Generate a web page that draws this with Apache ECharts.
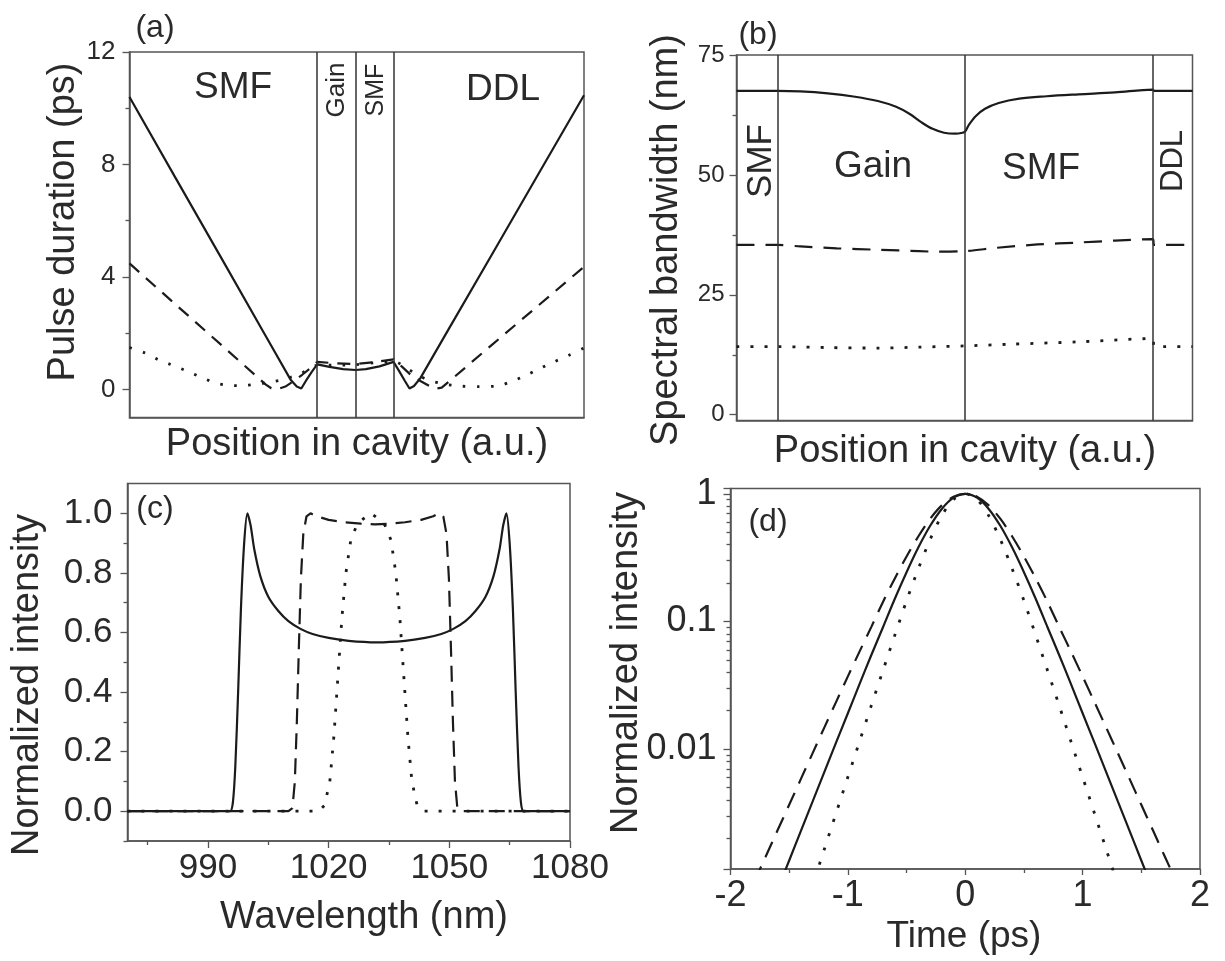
<!DOCTYPE html>
<html><head><meta charset="utf-8">
<script src="https://cdn.jsdelivr.net/npm/echarts@6/dist/echarts.min.js"></script>
<style>html,body{margin:0;padding:0;background:#fff}#chart{width:1225px;height:961px}</style>
</head><body><div id="chart"></div>
<script>
// ---------- DATA ----------
// (a) Pulse duration vs position in cavity (a.u. 0..100)
const aBoundaries = [41.3, 49.75, 58.1];
const aYTicks = [0, 4, 8, 12];
const aYMinor = [2, 6, 10];
const aSolid = [[0,10.4],[10,7.56],[20,4.73],[30,1.89],[35.5,0.33],[36.8,0.1],[37.8,0.03],[38.8,0.3],[40.1,0.62],[41.3,0.89],[44,0.8],[47,0.72],[49.75,0.69],[52,0.72],[55,0.82],[58.1,0.98],[59.3,0.66],[60.6,0.3],[61.6,0.03],[62.6,0.12],[64,0.4],[70,2.08],[80,4.87],[90,7.67],[100,10.46]];
const aDashed = [[0,4.48],[10,3.04],[20,1.61],[30,0.17],[31.2,0.04],[32.8,0.02],[34.3,0.1],[36,0.28],[38,0.52],[40,0.78],[41.3,0.98],[45,0.93],[49.75,0.9],[54,0.97],[58.1,1.07],[60,0.8],[62,0.5],[64,0.3],[66,0.12],[67.5,0.03],[68.7,0.06],[70,0.24],[80,1.62],[90,2.99],[100,4.36]];
const aDotted = [[0,1.49],[3.5,1.29],[6.4,1.05],[9.3,0.87],[12.5,0.66],[15.5,0.45],[18.5,0.25],[21.4,0.15],[24.7,0.13],[27.6,0.18],[31,0.26],[34,0.36],[37.5,0.55],[41.3,0.85],[45,0.86],[49.75,0.88],[54,0.95],[58.1,1.0],[61,0.75],[63.5,0.5],[65.8,0.33],[69,0.2],[72.5,0.12],[77,0.1],[81,0.12],[84,0.28],[87,0.48],[90,0.72],[93,0.95],[96.5,1.2],[100,1.47]];

// (b) Spectral bandwidth vs position in cavity
const bBoundaries = [9, 50.1, 91.3];
const bYTicks = [0, 25, 50, 75];
const bYMinor = [12.5, 37.5, 62.5];
const bSolid = [[0,67.5],[9,67.5],[14,67.4],[20,67.0],[26,66.3],[31,65.4],[35,64.2],[38,62.7],[40.5,61.0],[43,59.6],[45.5,58.8],[48,58.6],[49.6,58.8],[50.1,59.0],[51,60.5],[52.5,62.3],[54.5,63.8],[57.5,65.0],[62,65.9],[68,66.4],[75,66.8],[83,67.2],[91.3,67.8],[91.6,67.5],[100,67.5]];
const bDashed = [[0,35.4],[9,35.4],[14,35.1],[22,34.7],[31,34.4],[40,34.1],[44,34.0],[50,34.1],[57,34.8],[66,35.5],[75,35.9],[83,36.3],[91.3,36.6],[91.6,35.4],[100,35.4]];
const bDotted = [[0,14.2],[9,14.2],[20,14.0],[31,13.9],[40,14.1],[50,14.35],[60,14.7],[75,15.2],[91.3,15.9],[91.6,14.2],[100,14.2]];

// (c) Normalized spectra vs wavelength (nm)
const cXTicks = [990, 1020, 1050, 1080];
const cXMinor = [975, 1005, 1035, 1065];
const cYTicks = [0, 0.2, 0.4, 0.6, 0.8, 1.0];
const cYMinor = [-0.1, 0.1, 0.3, 0.5, 0.7, 0.9];
const cSolid = [[970,0],[990,0],[995.5,0],[996.2,0.03],[996.8,0.15],[997.5,0.4],[998.2,0.68],[999,0.9],[999.8,1.0],[1000.6,0.96],[1001.5,0.88],[1003,0.79],[1005,0.72],[1007.5,0.672],[1010,0.638],[1013,0.612],[1016,0.595],[1020,0.582],[1025,0.572],[1032,0.567],[1039,0.572],[1044,0.582],[1048,0.595],[1051,0.612],[1054,0.638],[1056.5,0.672],[1059,0.72],[1061,0.79],[1062.5,0.88],[1063.4,0.96],[1064.2,1.0],[1065,0.9],[1065.8,0.68],[1066.5,0.4],[1067.2,0.15],[1067.8,0.03],[1068.5,0],[1080,0]];
const cDashed = [[970,0],[1010,0],[1011,0.01],[1011.6,0.1],[1012.1,0.3],[1012.6,0.55],[1013.1,0.78],[1013.7,0.93],[1014.5,0.99],[1015.5,1.0],[1017,0.99],[1020,0.978],[1024,0.97],[1028,0.965],[1031.5,0.963],[1035,0.965],[1039,0.97],[1043,0.978],[1046,0.99],[1047.5,1.0],[1048.5,0.99],[1049.3,0.93],[1049.9,0.78],[1050.4,0.55],[1050.9,0.3],[1051.4,0.1],[1052,0.01],[1053,0],[1080,0]];
const cDotted = [[970,0],[1017.5,0],[1019,0.02],[1020.3,0.1],[1021.3,0.25],[1022.3,0.45],[1023.3,0.65],[1024.3,0.8],[1025.5,0.91],[1027,0.96],[1028.5,0.98],[1030.5,1.0],[1032.5,0.98],[1034,0.96],[1035.5,0.91],[1036.7,0.8],[1037.7,0.65],[1038.7,0.45],[1039.7,0.25],[1040.7,0.1],[1042,0.02],[1043.5,0],[1080,0]];

// (d) Normalized temporal intensity (log) vs time (ps)
const dTime = [-1.8,-1.7,-1.6,-1.5,-1.4,-1.3,-1.2,-1.1,-1.0,-0.9,-0.8,-0.7,-0.6,-0.5,-0.4,-0.3,-0.2,-0.1,0,0.1,0.2,0.3,0.4,0.5,0.6,0.7,0.8,0.9,1.0,1.1,1.2,1.3,1.4,1.5,1.6,1.7,1.8];
const dSolidHalf = [1, 0.932, 0.761, 0.559, 0.379, 0.243, 0.1506, 0.0905, 0.0546, 0.0324, 0.0191, 0.01127, 0.00663, 0.00389, 0.00229, 0.00134, 0.00079, 0.00046, 0.00027];
const dDashedHalf = [1, 0.9476, 0.8107, 0.635, 0.463, 0.3228, 0.2173, 0.1428, 0.0907, 0.0583, 0.0371, 0.02345, 0.0148, 0.0093, 0.00584, 0.00366, 0.0023, 0.00144, 0.00091];
const dDottedHalf = [1, 0.9015, 0.6738, 0.437, 0.258, 0.1454, 0.0781, 0.0415, 0.022, 0.01151, 0.00604, 0.00316, 0.00165, 0.00086, 0.00045, 0.000235, 0.000123, 0.000064, 0.000034];
const dXTicks = [-2, -1, 0, 1, 2];
const dXMinor = [-1.5, -0.5, 0.5, 1.5];
const dYMinor = [0.002,0.003,0.004,0.005,0.006,0.007,0.008,0.009,0.02,0.03,0.04,0.05,0.06,0.07,0.08,0.09,0.2,0.3,0.4,0.5,0.6,0.7,0.8,0.9];

// ---------- HELPERS ----------
const FONT = "'Liberation Sans', Arial, Helvetica, sans-serif";
const INK = '#1b1b1b';
const AX = '#555555';
const TXT = '#2a2a2a';

function symmetric(half) { // mirror half profile (t>=0) onto full time grid
  const left = half.slice(1).reverse();
  return left.concat(half);
}
function pairs(xs, ys) { return xs.map((x, i) => [x, ys[i]]); }

function grid(left, top, width, height) {
  return { left, top, width, height, show: true, borderColor: AX, borderWidth: 1.5,
           backgroundColor: 'transparent', containLabel: false, outerBoundsMode: 'none' };
}
function mainAxis(gi, opts) {
  return Object.assign({
    gridIndex: gi, type: 'value',
    axisLine: { show: true, onZero: false, lineStyle: { color: AX, width: 1.5 } },
    axisTick: { show: false },
    axisLabel: { show: false },
    splitLine: { show: false },
    minorTick: { show: false }
  }, opts);
}
function ticksAxis(gi, opts, values, len) {
  return Object.assign({
    gridIndex: gi, type: 'value',
    axisLine: { show: false, onZero: false },
    axisTick: { show: true, customValues: values, length: len, lineStyle: { color: AX, width: 1.3 } },
    axisLabel: { show: false },
    splitLine: { show: false }
  }, opts);
}
function line(data, xi, yi, kind, dash, width, smooth) {
  return {
    type: 'line', data, xAxisIndex: xi, yAxisIndex: yi, symbol: 'none', showSymbol: false,
    smooth: smooth || false, animation: false, z: 3, clip: true,
    lineStyle: { color: INK, width: width, type: kind === 'solid' ? 'solid' : dash }
  };
}
function boundaryLines(values) {
  return {
    symbol: ['none', 'none'], silent: true, label: { show: false }, animation: false,
    lineStyle: { color: '#333', type: 'solid', width: 1.5 },
    data: values.map(v => ({ xAxis: v }))
  };
}
function txt(text, x, y, size, rot) {
  return { type: 'text', x, y, rotation: rot ? Math.PI / 2 : 0, silent: true,
    style: { text, fontSize: size, fontFamily: FONT, fill: TXT, align: 'center', verticalAlign: 'middle' } };
}

// ---------- OPTION ----------
const chart = echarts.init(document.getElementById('chart'), null, { renderer: 'canvas' });

const option = {
  backgroundColor: '#ffffff',
  animation: false,
  textStyle: { fontFamily: FONT },
  grid: [
    grid(129.5, 52, 454.5, 365.5),
    grid(736.5, 55, 456, 365.5),
    grid(127.5, 483.5, 442.5, 357.5),
    grid(730.5, 488.5, 469.5, 380.5)
  ],
  xAxis: [
    mainAxis(0, { min: 0, max: 100 }),
    mainAxis(1, { min: 0, max: 100 }),
    mainAxis(2, { min: 970, max: 1080,
      axisTick: { show: true, customValues: cXTicks, length: 7, lineStyle: { color: AX, width: 1.3 } },
      axisLabel: { show: true, customValues: cXTicks, fontSize: 35, color: TXT, fontFamily: FONT, margin: 10,
        formatter: v => String(Math.round(v)) } }),
    ticksAxis(2, { min: 970, max: 1080, position: 'bottom' }, cXMinor, 4),
    mainAxis(3, { min: -2, max: 2, interval: 1,
      axisTick: { show: true, customValues: dXTicks, length: 6, lineStyle: { color: AX, width: 1.3 } },
      axisLabel: { show: true, customValues: dXTicks, fontSize: 36, color: TXT, fontFamily: FONT, margin: 9,
        formatter: v => String(Math.round(v)) } }),
    ticksAxis(3, { min: -2, max: 2, position: 'bottom' }, dXMinor, 4)
  ],
  yAxis: [
    mainAxis(0, { min: -1, max: 12,
      axisTick: { show: true, customValues: aYTicks, length: 7, lineStyle: { color: AX, width: 1.3 } },
      axisLabel: { show: true, customValues: aYTicks, fontSize: 26, color: TXT, fontFamily: FONT, margin: 14 } }),
    ticksAxis(0, { min: -1, max: 12, position: 'left' }, aYMinor, 4),
    mainAxis(1, { min: -1.2, max: 75,
      axisTick: { show: true, customValues: bYTicks, length: 7, lineStyle: { color: AX, width: 1.3 } },
      axisLabel: { show: true, customValues: bYTicks, fontSize: 24, color: TXT, fontFamily: FONT, margin: 12 } }),
    ticksAxis(1, { min: -1.2, max: 75, position: 'left' }, bYMinor, 4),
    mainAxis(2, { min: -0.1, max: 1.1,
      axisTick: { show: true, customValues: cYTicks, length: 7, lineStyle: { color: AX, width: 1.3 } },
      axisLabel: { show: true, customValues: cYTicks, fontSize: 35, color: TXT, fontFamily: FONT, margin: 15,
        formatter: v => Number(v).toFixed(1) } }),
    ticksAxis(2, { min: -0.1, max: 1.1, position: 'left' }, cYMinor, 4),
    mainAxis(3, { type: 'log', logBase: 10, min: 0.00115, max: 1.1,
      axisTick: { show: true, length: 7, lineStyle: { color: AX, width: 1.3 } },
      axisLabel: { show: true, fontSize: 36, color: TXT, fontFamily: FONT, margin: 14,
        formatter: v => { const l = Math.log10(v); return Math.abs(l - Math.round(l)) < 1e-6 ? String(+v.toPrecision(3)) : ''; } } }),
    ticksAxis(3, { type: 'log', logBase: 10, min: 0.00115, max: 1.1, position: 'left' }, dYMinor, 4)
  ],
  series: [
    Object.assign(line(aSolid, 0, 0, 'solid', null, 2.2), { markLine: boundaryLines(aBoundaries) }),
    line(aDashed, 0, 0, 'dashed', [13, 9], 2.2),
    line(aDotted, 0, 0, 'dotted', [2.5, 11.5], 2.8, 0.3),

    Object.assign(line(bSolid, 1, 2, 'solid', null, 2.2, 0.35), { markLine: boundaryLines(bBoundaries) }),
    line(bDashed, 1, 2, 'dashed', [18, 11], 2.2, 0.3),
    line(bDotted, 1, 2, 'dotted', [3, 11], 2.8, 0.3),

    line(cSolid, 2, 4, 'solid', null, 2.2, 0.25),
    line(cDashed, 2, 4, 'dashed', [16, 9], 2.2),
    line(cDotted, 2, 4, 'dotted', [3, 11], 2.8),

    line(pairs(dTime, symmetric(dSolidHalf)), 4, 6, 'solid', null, 2.2, 0.3),
    line(pairs(dTime, symmetric(dDashedHalf)), 4, 6, 'dashed', [17, 10], 2.2, 0.3),
    line(pairs(dTime, symmetric(dDottedHalf)), 4, 6, 'dotted', [3, 12], 2.8, 0.3)
  ],
  graphic: [
    // panel tags
    txt('(a)', 155, 28, 32), txt('(b)', 758, 35, 32), txt('(c)', 155, 509, 32), txt('(d)', 768, 522, 32),
    // (a) region labels
    txt('SMF', 233, 88, 37), txt('DDL', 503, 90, 37),
    txt('Gain', 337, 90, 26, true), txt('SMF', 376, 90, 25, true),
    // (b) region labels
    txt('SMF', 761, 161, 35, true), txt('Gain', 873, 167, 37), txt('SMF', 1041, 169, 37),
    txt('DDL', 1173, 161, 31, true),
    // axis titles
    txt('Pulse duration (ps)', 64, 222, 38, true),
    txt('Position in cavity (a.u.)', 357, 445, 38),
    txt('Spectral bandwidth (nm)', 667, 240, 38, true),
    txt('Position in cavity (a.u.)', 965, 452, 38),
    txt('Normalized intensity', 28, 685, 38, true),
    txt('Wavelength (nm)', 364, 918, 38),
    txt('Normalized intensity', 627, 663, 38, true),
    txt('Time (ps)', 964, 937, 37)
  ]
};
chart.setOption(option);
</script></body></html>
